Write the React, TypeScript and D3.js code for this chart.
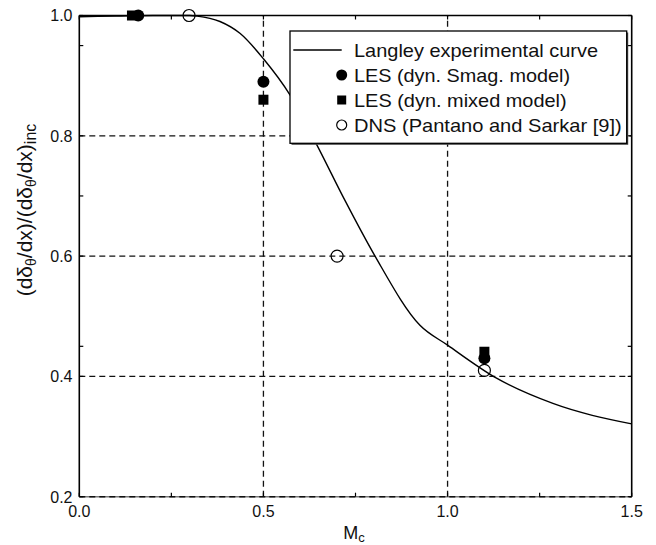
import React from 'react';
import * as d3 from 'd3';

// Langley experimental curve (convective Mach number vs. normalized growth rate)
const langleyMc = [0, 0.1, 0.2, 0.3, 0.32, 0.382, 0.437, 0.5, 0.572, 0.645, 0.721, 0.803, 0.925, 1.0, 1.133, 1.286, 1.5];
const langleyRatio = [0.998, 0.999, 1.0, 1.0, 0.999, 0.99, 0.97, 0.928, 0.868, 0.785, 0.693, 0.6, 0.485, 0.452, 0.397, 0.355, 0.321];

// LES, dynamic Smagorinsky model
const smagMc = [0.16, 0.5, 1.1];
const smagRatio = [1.0, 0.89, 0.43];

// LES, dynamic mixed model
const mixedMc = [0.143, 0.5, 1.1];
const mixedRatio = [1.0, 0.86, 0.441];

// DNS (Pantano and Sarkar)
const dnsMc = [0.298, 0.7, 1.1];
const dnsRatio = [1.0, 0.6, 0.41];

const xTicks = [0, 0.5, 1.0, 1.5];
const xMinorTicks = [0.25, 0.75, 1.25];
const yTicks = [0.2, 0.4, 0.6, 0.8, 1.0];
const yMinorTicks = [0.45, 0.7, 0.95];
const xGrid = [0.5, 1.0];
const yGrid = [0.4, 0.6, 0.8];

const legendLabels = [
  'Langley experimental curve',
  'LES (dyn. Smag. model)',
  'LES (dyn. mixed model)',
  'DNS (Pantano and Sarkar [9])',
];
const legendTextWidths = [244, 216, 212.7, 267.7];

const W = 656;
const H = 545;
const left = 79.3;
const right = 631.7;
const top = 15.5;
const bottom = 496.7;
const FONT = '"Liberation Sans", Arial, Helvetica, sans-serif';

export default function App() {
  const x = d3.scaleLinear().domain([0, 1.5]).range([left, right]);
  const y = d3.scaleLinear().domain([0.2, 1.0]).range([bottom, top]);

  const curvePts: [number, number][] = langleyMc.map((m, i) => [m, langleyRatio[i]]);
  const line = d3
    .line<[number, number]>()
    .x((d) => x(d[0]))
    .y((d) => y(d[1]))
    .curve(d3.curveMonotoneX);

  const tickLen = 4;
  const dash = '6,4';

  // legend geometry
  const lgX = 290;
  const lgY = 31;
  const lgW = 336.7;
  const lgH = 112.3;
  const rowY = [50, 75, 100, 125];
  const symX = 341.7;
  const textX = 354;

  return (
    <svg
      width={W}
      height={H}
      style={{ position: 'absolute', left: 0, top: 0, background: '#fff' }}
      fontFamily={FONT}
    >
      <rect x={0} y={0} width={W} height={H} fill="#fff" />

      {/* dashed grid */}
      {xGrid.map((v) => (
        <line key={'gx' + v} x1={x(v)} x2={x(v)} y1={bottom} y2={top} stroke="#111" strokeWidth={1.3} strokeDasharray={dash} />
      ))}
      {yGrid.map((v) => (
        <line key={'gy' + v} x1={left} x2={right} y1={y(v)} y2={y(v)} stroke="#111" strokeWidth={1.3} strokeDasharray={dash} />
      ))}

      {/* frame */}
      <line x1={left} x2={right} y1={bottom} y2={bottom} stroke="#777" strokeWidth={1.6} />
      <line x1={left} x2={right} y1={bottom} y2={bottom} stroke="#111" strokeWidth={1.6} strokeDasharray={dash} />
      <line x1={left} x2={right} y1={top} y2={top} stroke="#000" strokeWidth={1.6} />
      <line x1={left} x2={left} y1={top} y2={bottom} stroke="#000" strokeWidth={1.6} />
      <line x1={right} x2={right} y1={top} y2={bottom} stroke="#000" strokeWidth={1.6} />

      {/* ticks (inward) */}
      {[...xTicks, ...xMinorTicks].map((v) => (
        <g key={'xt' + v}>
          <line x1={x(v)} x2={x(v)} y1={bottom} y2={bottom - tickLen} stroke="#000" strokeWidth={1.2} />
          <line x1={x(v)} x2={x(v)} y1={top} y2={top + tickLen} stroke="#000" strokeWidth={1.2} />
        </g>
      ))}
      {[...yTicks, ...yMinorTicks].map((v) => (
        <g key={'yt' + v}>
          <line x1={left} x2={left + tickLen} y1={y(v)} y2={y(v)} stroke="#000" strokeWidth={1.2} />
          <line x1={right} x2={right - tickLen} y1={y(v)} y2={y(v)} stroke="#000" strokeWidth={1.2} />
        </g>
      ))}

      {/* tick labels */}
      {xTicks.map((v) => (
        <text key={'xl' + v} x={x(v)} y={516.5} textAnchor="middle" fontSize={16} fill="#111">
          {v.toFixed(1)}
        </text>
      ))}
      {yTicks.map((v) => (
        <text key={'yl' + v} x={72.5} y={y(v) + 5.8} textAnchor="end" fontSize={16} fill="#111">
          {v.toFixed(1)}
        </text>
      ))}

      {/* axis titles */}
      <text x={354} y={538.5} textAnchor="middle" fontSize={18} fill="#111">
        M<tspan fontSize={13} dy={3}>c</tspan>
      </text>
      <text transform="translate(32,210) rotate(-90)" textAnchor="middle" fontSize={21} fill="#111">
        (dδ<tspan fontSize={14} dy={4}>θ</tspan>
        <tspan dy={-4}>/dx)/(dδ</tspan>
        <tspan fontSize={14} dy={4}>θ</tspan>
        <tspan dy={-4}>/dx)</tspan>
        <tspan fontSize={16} dy={4}>inc</tspan>
      </text>

      {/* experimental curve */}
      <path d={line(curvePts) || ''} fill="none" stroke="#000" strokeWidth={1.4} />

      {/* LES mixed model: filled squares */}
      {mixedMc.map((m, i) => (
        <rect key={'mx' + i} x={x(m) - 5} y={y(mixedRatio[i]) - 5} width={10} height={10} fill="#000" />
      ))}
      {/* LES Smagorinsky: filled circles */}
      {smagMc.map((m, i) => (
        <circle key={'sm' + i} cx={x(m)} cy={y(smagRatio[i])} r={6} fill="#000" />
      ))}
      {/* DNS: open circles */}
      {dnsMc.map((m, i) => (
        <circle key={'dn' + i} cx={x(m)} cy={y(dnsRatio[i])} r={6} fill="none" stroke="#000" strokeWidth={1.2} />
      ))}

      {/* legend */}
      <rect x={lgX + 1.5} y={lgY + 1.5} width={lgW} height={lgH} fill="#444" />
      <rect x={lgX} y={lgY} width={lgW} height={lgH} fill="#fff" stroke="#000" strokeWidth={1.3} />
      <line x1={293.3} x2={341.7} y1={rowY[0]} y2={rowY[0]} stroke="#000" strokeWidth={1.3} />
      <circle cx={symX} cy={rowY[1]} r={5.5} fill="#000" />
      <rect x={symX - 4.5} y={rowY[2] - 4.5} width={9} height={9} fill="#000" />
      <circle cx={symX} cy={rowY[3]} r={5} fill="none" stroke="#000" strokeWidth={1.2} />
      {legendLabels.map((t, i) => (
        <text
          key={'lg' + i}
          x={textX}
          y={rowY[i] + 6.5}
          fontSize={18.5}
          fill="#111"
          textLength={legendTextWidths[i]}
          lengthAdjust="spacingAndGlyphs"
        >
          {t}
        </text>
      ))}
    </svg>
  );
}
